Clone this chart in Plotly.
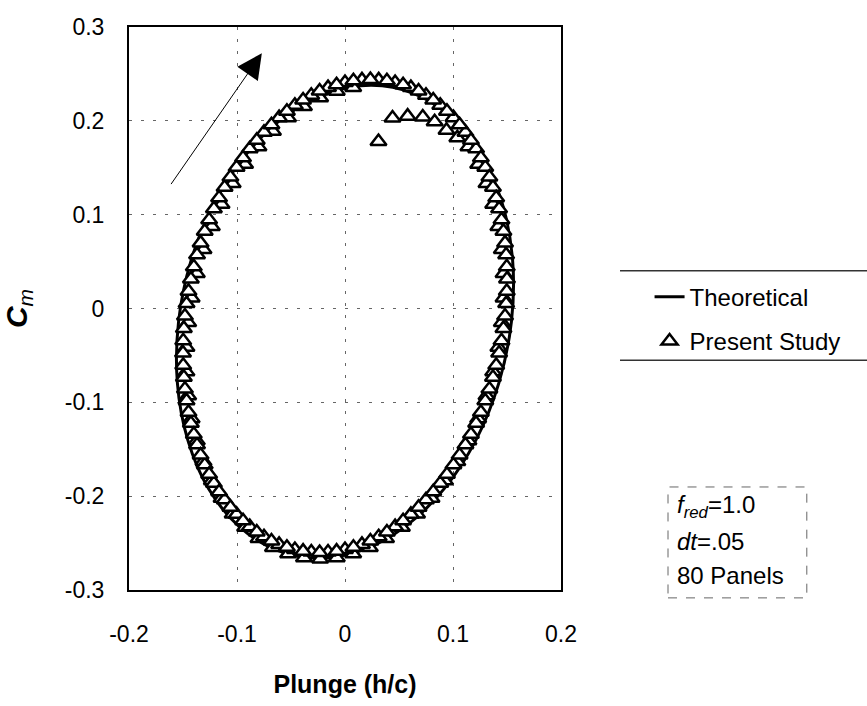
import plotly.graph_objects as go

# ---------------- data ----------------
X_TICKS = [-0.2, -0.1, 0, 0.1, 0.2]
X_TICK_TEXT = ["-0.2", "-0.1", "0", "0.1", "0.2"]
Y_TICKS = [-0.3, -0.2, -0.1, 0, 0.1, 0.2, 0.3]
Y_TICK_TEXT = ["-0.3", "-0.2", "-0.1", "0", "0.1", "0.2", "0.3"]

# Theoretical loop
theory_x = [0.0244, 0.0634, 0.0982, 0.1263, 0.1456, 0.1552, 0.1541, 0.1425, 0.1213, 0.0917,
            0.0560, 0.0163, -0.0244, -0.0634, -0.0982, -0.1263, -0.1456, -0.1552, -0.1541,
            -0.1425, -0.1213, -0.0917, -0.0560, -0.0163, 0.0244]
theory_y = [0.238, 0.2294, 0.2042, 0.1642, 0.112, 0.0512, -0.014, -0.0792, -0.140, -0.1922,
            -0.2322, -0.2574, -0.266, -0.2574, -0.2322, -0.1922, -0.140, -0.0792, -0.014,
            0.0512, 0.112, 0.1642, 0.2042, 0.2294, 0.238]

# Present study: start-up transient
start_x = [0.031, 0.044, 0.058, 0.072, 0.083, 0.094, 0.104]
start_y = [0.178, 0.203, 0.205, 0.204, 0.199, 0.190, 0.182]

# Present study: first cycle
cycle1_x = [0.1143, 0.1233, 0.1310, 0.1372, 0.1420, 0.1452, 0.1468, 0.1468, 0.1452, 0.1420,
            0.1372, 0.1310, 0.1233, 0.1143, 0.1040, 0.0925, 0.0801, 0.0667, 0.0527, 0.0380,
            0.0230, 0.0076, -0.0076, -0.0230, -0.0380, -0.0527, -0.0667, -0.0801, -0.0925,
            -0.1040, -0.1143, -0.1233, -0.1310, -0.1372, -0.1420, -0.1452, -0.1468, -0.1468,
            -0.1452, -0.1420, -0.1372, -0.1310, -0.1233, -0.1143, -0.1040, -0.0925, -0.0801,
            -0.0667, -0.0527, -0.0380, -0.0230, -0.0076, 0.0076]
cycle1_y = [0.1723, 0.1536, 0.1331, 0.1110, 0.0875, 0.0629, 0.0374, 0.0113, -0.0150, -0.0413,
            -0.0674, -0.0929, -0.1175, -0.1410, -0.1631, -0.1836, -0.2023, -0.2189, -0.2332,
            -0.2452, -0.2547, -0.2615, -0.2656, -0.2670, -0.2656, -0.2615, -0.2547, -0.2452,
            -0.2332, -0.2189, -0.2023, -0.1836, -0.1631, -0.1410, -0.1175, -0.0929, -0.0674,
            -0.0413, -0.0150, 0.0113, 0.0374, 0.0629, 0.0875, 0.1110, 0.1331, 0.1536, 0.1723,
            0.1889, 0.2032, 0.2152, 0.2247, 0.2315, 0.2356]

# Present study: second cycle
cycle2_x = [0.0312, 0.0464, 0.0610, 0.075, 0.0882, 0.1004, 0.1115, 0.1214, 0.1299, 0.1370,
            0.1427, 0.1467, 0.1492, 0.15, 0.1492, 0.1467, 0.1427, 0.1370, 0.1299, 0.1214,
            0.1115, 0.1004, 0.0882, 0.075, 0.0610, 0.0464, 0.0312, 0.0157, 0.0, -0.0157,
            -0.0312, -0.0464, -0.0610, -0.075, -0.0882, -0.1004, -0.1115, -0.1214, -0.1299,
            -0.1370, -0.1427, -0.1467, -0.1492, -0.15, -0.1492, -0.1467, -0.1427, -0.1370,
            -0.1299, -0.1214, -0.1115, -0.1004, -0.0882, -0.075, -0.0610, -0.0464, -0.0312,
            -0.0157, 0.0, 0.0157]
cycle2_y = [0.2436, 0.2409, 0.2354, 0.2273, 0.2165, 0.2034, 0.1878, 0.1702, 0.1506, 0.1292,
            0.1064, 0.0823, 0.0572, 0.0314, 0.0052, -0.0212, -0.0474, -0.0732, -0.0983, -0.1224,
            -0.1452, -0.1666, -0.1862, -0.2038, -0.2194, -0.2325, -0.2433, -0.2514, -0.2569,
            -0.2596, -0.2596, -0.2569, -0.2514, -0.2433, -0.2325, -0.2194, -0.2038, -0.1862,
            -0.1666, -0.1452, -0.1224, -0.0983, -0.0732, -0.0474, -0.0212, 0.0052, 0.0314,
            0.0572, 0.0823, 0.1064, 0.1292, 0.1506, 0.1702, 0.1878, 0.2034, 0.2165, 0.2273,
            0.2354, 0.2409, 0.2436]

# Present study: converged cycle
cycle3_x = [0.0235, 0.0388, 0.0538, 0.0681, 0.0817, 0.0944, 0.1061, 0.1166, 0.1258, 0.1337,
            0.1400, 0.1449, 0.1482, 0.1498, 0.1498, 0.1482, 0.1449, 0.1400, 0.1337, 0.1258,
            0.1166, 0.1061, 0.0944, 0.0817, 0.0681, 0.0538, 0.0388, 0.0235, 0.0078, -0.0078,
            -0.0235, -0.0388, -0.0538, -0.0681, -0.0817, -0.0944, -0.1061, -0.1166, -0.1258,
            -0.1337, -0.1400, -0.1449, -0.1482, -0.1498, -0.1498, -0.1482, -0.1449, -0.1400,
            -0.1337, -0.1258, -0.1166, -0.1061, -0.0944, -0.0817, -0.0681, -0.0538, -0.0388,
            -0.0235, -0.0078, 0.0078]
cycle3_y = [0.244, 0.2426, 0.2385, 0.2317, 0.2222, 0.2102, 0.1959, 0.1793, 0.1606, 0.1401,
            0.118, 0.0945, 0.0699, 0.0444, 0.0183, -0.008, -0.0343, -0.0604, -0.0859, -0.1105,
            -0.134, -0.1561, -0.1766, -0.1953, -0.2119, -0.2262, -0.2382, -0.2477, -0.2545,
            -0.2586, -0.260, -0.2586, -0.2545, -0.2477, -0.2382, -0.2262, -0.2119, -0.1953,
            -0.1766, -0.1561, -0.134, -0.1105, -0.0859, -0.0604, -0.0343, -0.008, 0.0183,
            0.0444, 0.0699, 0.0945, 0.118, 0.1401, 0.1606, 0.1793, 0.1959, 0.2102, 0.2222,
            0.2317, 0.2385, 0.2426]

study_x = start_x + cycle1_x + cycle2_x + cycle3_x
study_y = start_y + cycle1_y + cycle2_y + cycle3_y

# ---------------- figure ----------------
FONT = "Liberation Sans, Arial, sans-serif"

fig = go.Figure()
fig.add_trace(go.Scatter(
    x=theory_x, y=theory_y, mode="lines", name="Theoretical",
    legendgroup="a",
    line=dict(color="black", width=3, shape="spline"),
))
fig.add_trace(go.Scatter(
    x=study_x, y=study_y, mode="markers", name="Present Study",
    legendgroup="b",
    marker=dict(symbol="triangle-up", size=14, color="white",
                line=dict(color="black", width=2.5)),
))

axis_common = dict(
    showline=True, linecolor="black", linewidth=2, mirror=True,
    showgrid=True, gridcolor="#666666", gridwidth=1, griddash="3px,9px",
    zeroline=False, ticks="",
    tickfont=dict(family=FONT, size=23, color="black"),
)

fig.update_xaxes(
    range=[-0.2, 0.2], tickmode="array", tickvals=X_TICKS, ticktext=X_TICK_TEXT,
    ticklabelstandoff=22,
    title=dict(text="<b>Plunge (h/c)</b>", font=dict(family=FONT, size=25, color="black"),
               standoff=30),
    **axis_common,
)
fig.update_yaxes(
    range=[-0.3, 0.3], tickmode="array", tickvals=Y_TICKS, ticktext=Y_TICK_TEXT,
    ticklabelstandoff=18,
    title=dict(text="<b><i>C</i></b><sub><i>m</i></sub>",
               font=dict(family=FONT, size=30, color="black"), standoff=30),
    **axis_common,
)

fig.update_layout(
    width=867, height=706, autosize=False,
    margin=dict(l=129, r=306, t=27, b=111),
    paper_bgcolor="white", plot_bgcolor="white",
    showlegend=True,
    legend=dict(
        x=1.205, y=0.56, xanchor="left", yanchor="top",
        font=dict(family=FONT, size=24, color="black"),
        bgcolor="rgba(0,0,0,0)", borderwidth=0,
        traceorder="grouped", tracegroupgap=10,
    ),
    shapes=[
        dict(type="line", xref="paper", yref="paper", x0=1.1366, x1=1.71, y0=0.567, y1=0.567,
             line=dict(color="#333333", width=1.5)),
        dict(type="line", xref="paper", yref="paper", x0=1.1366, x1=1.71, y0=0.408, y1=0.408,
             line=dict(color="#333333", width=1.5)),
        dict(type="rect", xref="paper", yref="paper", x0=1.2477, x1=1.569, y0=-0.014, y1=0.183,
             line=dict(color="#666666", width=1, dash="dash")),
    ],
    annotations=[
        dict(x=-0.077, y=0.272, ax=-0.162, ay=0.131, xref="x", yref="y", axref="x", ayref="y",
             text="", showarrow=True, arrowhead=2, arrowsize=5, arrowwidth=1,
             arrowcolor="black", standoff=0),
        dict(x=1.263, y=0.148, xref="paper", yref="paper", xanchor="left", yanchor="middle",
             text="<i>f</i><sub><i>red</i></sub>=1.0", showarrow=False,
             font=dict(family=FONT, size=24, color="black")),
        dict(x=1.263, y=0.086, xref="paper", yref="paper", xanchor="left", yanchor="middle",
             text="<i>dt</i>=.05", showarrow=False,
             font=dict(family=FONT, size=24, color="black")),
        dict(x=1.263, y=0.026, xref="paper", yref="paper", xanchor="left", yanchor="middle",
             text="80 Panels", showarrow=False,
             font=dict(family=FONT, size=24, color="black")),
    ],
)

fig.write_html("out.html")
